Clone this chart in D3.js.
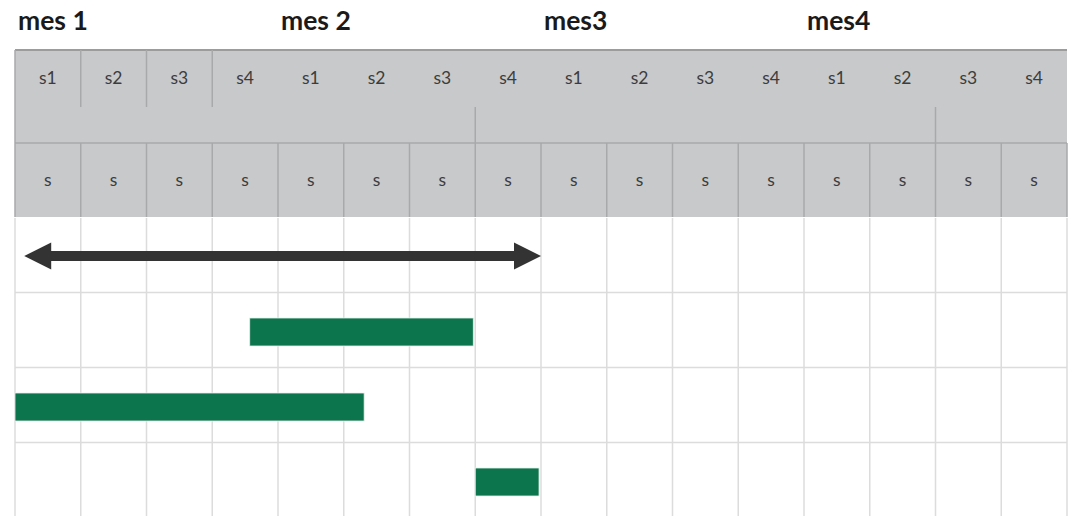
<!DOCTYPE html>
<html>
<head>
<meta charset="utf-8">
<script src="https://cdn.jsdelivr.net/npm/d3@7"></script>
<style>
  body { margin: 0; background: #fff; }
  svg { display: block; }
  .month { font-family: Lato, "Open Sans", sans-serif; font-weight: 700; font-size: 26.5px; fill: #1a1a1a; }
  .wk { font-family: Lato, "Open Sans", sans-serif; font-size: 17.5px; fill: #3c3c3c; }
</style>
</head>
<body>
<svg width="1072" height="516"></svg>
<script>
// months sit on weeks 0, 4, 8, 12
const months = ["mes 1", "mes 2", "mes3", "mes4"];
const monthStart = [0, 4, 8, 12];
const weekLabels = ["s1","s2","s3","s4","s1","s2","s3","s4","s1","s2","s3","s4","s1","s2","s3","s4"];
const subLabels = ["s","s","s","s","s","s","s","s","s","s","s","s","s","s","s","s"];
// header oddities: dividers in top row only after these weeks, band dividers at these weeks
const topDividers = [1, 2, 3];
const bandDividers = [7, 14];

// rows of the body (0 = arrow row)
const arrowSpan = { row: 0, start: 0.14, end: 8.0 };
const bars = [
  { row: 1, start: 3.57, end: 6.97 },
  { row: 2, start: 0, end: 5.31 },
  { row: 3, start: 7.0, end: 7.97 }
];

const svg = d3.select("svg");
const x = d3.scaleLinear().domain([0, 16]).range([15, 1067]);
const y = d3.scaleBand().domain([0, 1, 2, 3]).range([217.5, 517.5]);

const hdrTop = 50, hdrMid = 107, hdrSub = 143, hdrBot = 217;

// month titles
svg.selectAll(".month").data(months).join("text")
  .attr("class", "month")
  .attr("x", (d, i) => x(monthStart[i]) + 3)
  .attr("y", 29.5)
  .text(d => d);

// header block
svg.append("rect")
  .attr("x", x(0)).attr("y", hdrTop)
  .attr("width", x(16) - x(0)).attr("height", hdrBot - hdrTop)
  .attr("fill", "#c8c9cb");

svg.append("line")
  .attr("x1", x(0)).attr("x2", x(16)).attr("y1", hdrTop).attr("y2", hdrTop)
  .attr("stroke", "#9c9c9c").attr("stroke-width", 2);
svg.append("line")
  .attr("x1", x(0)).attr("x2", x(0)).attr("y1", hdrTop).attr("y2", hdrBot)
  .attr("stroke", "#a8a9ab").attr("stroke-width", 1.5);
svg.append("line")
  .attr("x1", x(0)).attr("x2", x(16)).attr("y1", hdrSub).attr("y2", hdrSub)
  .attr("stroke", "#a8a9ab").attr("stroke-width", 1.5);

svg.selectAll(".tdiv").data(topDividers).join("line")
  .attr("x1", d => x(d)).attr("x2", d => x(d))
  .attr("y1", hdrTop).attr("y2", hdrMid)
  .attr("stroke", "#a8a9ab").attr("stroke-width", 1.5);
svg.selectAll(".bdiv").data(bandDividers).join("line")
  .attr("x1", d => x(d)).attr("x2", d => x(d))
  .attr("y1", hdrMid).attr("y2", hdrSub)
  .attr("stroke", "#a8a9ab").attr("stroke-width", 1.5);
svg.selectAll(".sdiv").data(d3.range(1, 17)).join("line")
  .attr("x1", d => x(d)).attr("x2", d => x(d))
  .attr("y1", hdrSub).attr("y2", hdrBot)
  .attr("stroke", "#a8a9ab").attr("stroke-width", 1.5);

svg.selectAll(".wk1").data(weekLabels).join("text")
  .attr("class", "wk")
  .attr("x", (d, i) => x(i + 0.5)).attr("y", 77)
  .attr("text-anchor", "middle").attr("dominant-baseline", "central")
  .text(d => d);
svg.selectAll(".wk2").data(subLabels).join("text")
  .attr("class", "wk")
  .attr("x", (d, i) => x(i + 0.5)).attr("y", 179)
  .attr("text-anchor", "middle").attr("dominant-baseline", "central")
  .text(d => d);

// body grid
svg.selectAll(".vgrid").data(d3.range(0, 17)).join("line")
  .attr("x1", d => x(d)).attr("x2", d => x(d))
  .attr("y1", hdrBot + 1).attr("y2", 516)
  .attr("stroke", "#dcdcdc").attr("stroke-width", 1.5);
svg.selectAll(".hgrid").data([1, 2, 3]).join("line")
  .attr("x1", x(0)).attr("x2", x(16))
  .attr("y1", d => y(d)).attr("y2", d => y(d))
  .attr("stroke", "#dcdcdc").attr("stroke-width", 1.5);

// double arrow
const ay = y(arrowSpan.row) + 38.5;
const ax0 = x(arrowSpan.start), ax1 = x(arrowSpan.end);
const headL = 27, headH = 13.5, shaft = 5;
const arrowPath = [
  [ax0, ay], [ax0 + headL, ay - headH], [ax0 + headL, ay - shaft],
  [ax1 - headL, ay - shaft], [ax1 - headL, ay - headH], [ax1, ay],
  [ax1 - headL, ay + headH], [ax1 - headL, ay + shaft],
  [ax0 + headL, ay + shaft], [ax0 + headL, ay + headH]
];
svg.append("path")
  .attr("d", d3.line()(arrowPath) + "Z")
  .attr("fill", "#333333");

// task bars
svg.selectAll(".bar").data(bars).join("rect")
  .attr("x", d => x(d.start))
  .attr("y", d => y(d.row) + 25.5)
  .attr("width", d => x(d.end) - x(d.start))
  .attr("height", 28)
  .attr("fill", "#0d754d")
  .attr("stroke", "#e6f0ea").attr("stroke-width", 0.8);
</script>
</body>
</html>
